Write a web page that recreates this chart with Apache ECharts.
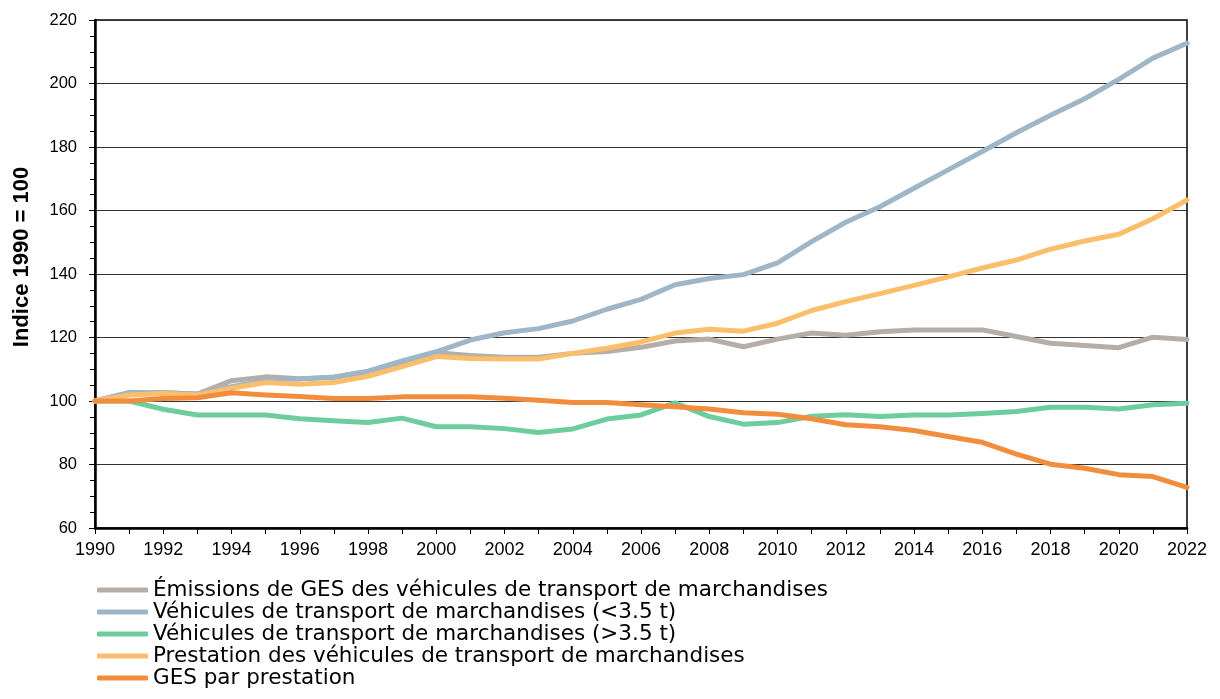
<!DOCTYPE html>
<html>
<head>
<meta charset="utf-8">
<script src="https://cdn.jsdelivr.net/npm/echarts@6/dist/echarts.min.js"></script>
<style>
  html, body { margin: 0; padding: 0; background: #fff; }
  #chart { width: 1220px; height: 699px; }
</style>
</head>
<body>
<div id="chart"></div>
<script>
// années 1990 -> 2022
const years = [];
for (let y = 1990; y <= 2022; y++) years.push(String(y));

const yTicks = [60, 80, 100, 120, 140, 160, 180, 200, 220];

const emissions = [100, 102.4, 102.6, 102.2, 106.4, 107.6, 107, 107.4, 109.2, 112, 115.2,
  114.3, 113.8, 113.8, 115, 115.6, 116.9, 118.9, 119.5, 117.1, 119.5,
  121.4, 120.7, 121.8, 122.4, 122.4, 122.4, 120.3, 118.2, 117.5, 116.8, 120.1, 119.4];
const vehiculesLegers = [100, 102.7, 102.6, 102.2, 104.5, 106.5, 106.9, 107.6, 109.4, 112.6, 115.5,
  119.2, 121.5, 122.8, 125.2, 128.9, 132, 136.6, 138.6, 139.8, 143.5,
  150.2, 156.3, 161.2, 167, 172.8, 178.6, 184.5, 190, 195.2, 201.3, 208, 212.7];
const vehiculesLourds = [100, 100, 97.4, 95.6, 95.6, 95.6, 94.4, 93.8, 93.2, 94.6, 91.9,
  91.9, 91.3, 90.1, 91.2, 94.3, 95.6, 99.4, 95.1, 92.7, 93.2,
  95.2, 95.7, 95.1, 95.6, 95.6, 96.1, 96.7, 98, 98, 97.5, 98.8, 99.3];
const prestation = [100, 101.9, 102.4, 101.9, 104, 105.8, 105.3, 105.8, 107.8, 110.8, 114,
  113.4, 113.2, 113.2, 115, 116.6, 118.6, 121.4, 122.6, 122, 124.5,
  128.5, 131.3, 133.8, 136.4, 139.1, 141.9, 144.4, 147.8, 150.4, 152.5, 157.4, 163.3];
const gesParPrestation = [100, 100, 100.8, 101, 102.6, 101.9, 101.4, 100.8, 100.8, 101.3, 101.3,
  101.3, 100.9, 100.2, 99.5, 99.5, 98.8, 98.2, 97.5, 96.3, 95.8,
  94.4, 92.5, 91.9, 90.7, 88.8, 87, 83.3, 80.1, 78.8, 76.8, 76.2, 72.8];

const seriesDefs = [
  { name: 'Émissions de GES des véhicules de transport de marchandises', data: emissions, color: '#b4ada8' },
  { name: 'Véhicules de transport de marchandises (<3.5 t)', data: vehiculesLegers, color: '#9eb6c7' },
  { name: 'Véhicules de transport de marchandises (>3.5 t)', data: vehiculesLourds, color: '#6dcd9c' },
  { name: 'Prestation des véhicules de transport de marchandises', data: prestation, color: '#fbbf6c' },
  { name: 'GES par prestation', data: gesParPrestation, color: '#f28d3e' }
];

const chart = echarts.init(document.getElementById('chart'));

const option = {
  animation: false,
  grid: {
    left: 95,
    right: 33,
    top: 20,
    bottom: 171,
    show: true,
    borderColor: '#000',
    borderWidth: 1.5
  },
  legend: {
    orient: 'vertical',
    left: 97,
    top: 579,
    padding: 0,
    itemGap: 0,
    itemWidth: 51,
    itemHeight: 5,
    icon: 'roundRect',
    textStyle: {
      fontFamily: 'DejaVu Sans',
      fontSize: 21.5,
      lineHeight: 22,
      color: '#000'
    },
    data: seriesDefs.map(s => s.name)
  },
  xAxis: {
    type: 'category',
    data: years,
    boundaryGap: false,
    axisLine: { lineStyle: { color: '#000', width: 2.5 } },
    axisTick: { show: true, interval: 0, inside: false, length: 6, lineStyle: { color: '#000', width: 1 } },
    axisLabel: {
      interval: 1,
      margin: 13,
      color: '#000',
      fontFamily: 'Liberation Sans, Arial',
      fontSize: 18
    },
    splitLine: { show: false }
  },
  yAxis: {
    type: 'value',
    min: yTicks[0],
    max: yTicks[yTicks.length - 1],
    interval: 20,
    name: 'Indice 1990 = 100',
    nameLocation: 'middle',
    nameGap: 62,
    nameRotate: 90,
    nameTextStyle: {
      fontFamily: 'Liberation Sans, Arial',
      fontWeight: 'bold',
      fontSize: 22,
      color: '#000',
      padding: [0, 0, 0, 34]
    },
    axisLine: { show: true, lineStyle: { color: '#000', width: 2.5 } },
    axisTick: { show: true, length: 6, lineStyle: { color: '#000', width: 1 } },
    minorTick: { show: true, splitNumber: 4, length: 5, lineStyle: { color: '#000', width: 1 } },
    axisLabel: {
      margin: 18,
      color: '#000',
      fontFamily: 'Liberation Sans, Arial',
      fontSize: 16.5
    },
    splitLine: { show: true, lineStyle: { color: '#333', width: 1 } }
  },
  series: seriesDefs.map(s => ({
    name: s.name,
    type: 'line',
    data: s.data,
    symbol: 'none',
    color: s.color,
    lineStyle: { width: 5, color: s.color, cap: 'round', join: 'round' }
  }))
};

chart.setOption(option);
</script>
</body>
</html>
